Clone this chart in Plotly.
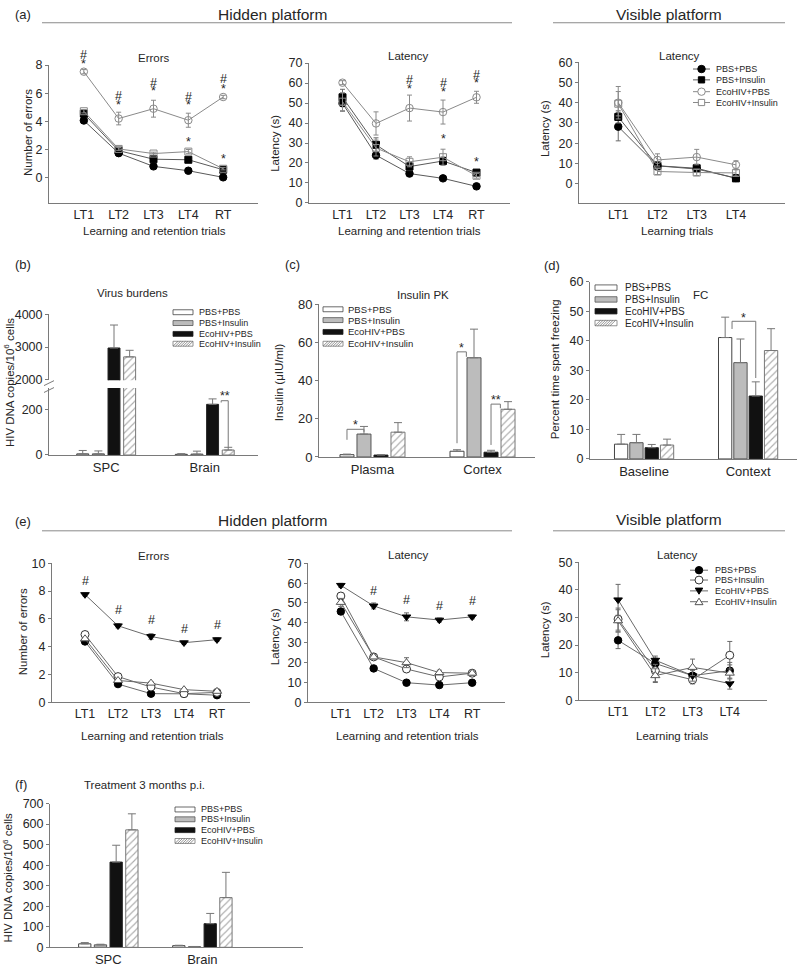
import plotly.graph_objects as go

# ---------------- data ----------------
groups = ["PBS+PBS", "PBS+Insulin", "EcoHIV+PBS", "EcoHIV+Insulin"]
trials5 = ["LT1", "LT2", "LT3", "LT4", "RT"]
trials4 = ["LT1", "LT2", "LT3", "LT4"]

# (a) Morris water maze, hidden platform errors (mean per group, SEM)
a_err_mean = [
    [4.06, 1.74, 0.80, 0.49, 0.02],
    [4.55, 1.92, 1.31, 1.27, 0.56],
    [7.53, 4.20, 4.90, 4.08, 5.73],
    [4.72, 2.04, 1.71, 1.85, 0.63],
]
a_err_sem = [
    [0.10, 0.10, 0.08, 0.06, 0.05],
    [0.12, 0.10, 0.12, 0.15, 0.08],
    [0.15, 0.45, 0.60, 0.50, 0.12],
    [0.12, 0.10, 0.10, 0.15, 0.08],
]
a_err_sig_x = ["LT1", "LT1", "LT2", "LT2", "LT3", "LT3", "LT4", "LT4", "RT", "RT", "LT4", "RT"]
a_err_sig_y = [7.80, 8.45, 4.90, 5.50, 5.85, 6.45, 4.90, 5.42, 6.05, 6.70, 2.28, 1.03]
a_err_sig_t = ["*", "#", "*", "#", "*", "#", "*", "#", "*", "#", "*", "*"]

a_lat_mean = [
    [49.9, 23.9, 14.7, 12.3, 8.3],
    [52.9, 29.1, 18.2, 21.0, 15.2],
    [60.2, 39.8, 47.5, 45.5, 52.9],
    [50.7, 27.5, 20.6, 22.9, 13.6],
]
a_lat_sem = [
    [4.0, 2.0, 1.2, 0.8, 0.6],
    [4.0, 3.5, 2.0, 2.0, 1.0],
    [1.0, 5.8, 6.5, 6.0, 3.0],
    [4.5, 4.0, 2.5, 4.0, 1.2],
]
a_lat_sig_x = ["LT3", "LT3", "LT4", "LT4", "RT", "RT", "LT4", "RT"]
a_lat_sig_y = [55.0, 59.4, 53.4, 57.8, 57.8, 61.9, 30.0, 18.5]
a_lat_sig_t = ["*", "#", "*", "#", "*", "#", "*", "*"]

a_vis_mean = [
    [28.2, 8.9, 7.3, 2.9],
    [33.0, 8.9, 7.7, 2.7],
    [40.0, 11.8, 13.2, 9.4],
    [39.5, 6.1, 5.6, 5.4],
]
a_vis_sem = [
    [7.0, 2.0, 1.5, 1.0],
    [3.0, 2.0, 2.0, 1.0],
    [8.0, 3.0, 3.8, 2.0],
    [6.0, 1.5, 1.5, 1.5],
]

# (b) virus burdens (per group: [SPC, Brain])
b_tissues = ["SPC", "Brain"]
b_mean = [[5, 3], [5, 4], [2970, 224], [2700, 22]]
b_sem = [[15, 3], [13, 13], [700, 24], [200, 12]]

# (c) insulin PK
c_sites = ["Plasma", "Cortex"]
c_mean = [[1.2, 3.0], [12.0, 52.0], [1.0, 2.5], [13.0, 25.0]]
c_sem = [[0.3, 0.8], [4.0, 15.0], [0.2, 1.0], [5.0, 4.0]]

# (d) fear conditioning
d_cond = ["Baseline", "Context"]
d_mean = [[5.0, 41.1], [5.5, 32.6], [3.8, 21.3], [4.7, 36.7]]
d_sem = [[3.3, 6.9], [2.8, 8.0], [1.1, 4.8], [2.0, 7.4]]

# (e) treatment experiment, water maze
e_err_mean = [
    [4.37, 1.30, 0.61, 0.60, 0.50],
    [4.87, 1.84, 1.09, 0.61, 0.70],
    [7.75, 5.50, 4.73, 4.28, 4.50],
    [4.56, 1.56, 1.37, 0.90, 0.78],
]
e_err_sem = [
    [0.10, 0.10, 0.08, 0.08, 0.08],
    [0.10, 0.10, 0.10, 0.08, 0.08],
    [0.10, 0.15, 0.20, 0.10, 0.12],
    [0.10, 0.10, 0.10, 0.08, 0.08],
]
e_err_sig_x = ["LT1", "LT2", "LT3", "LT4", "RT"]
e_err_sig_y = [8.46, 6.34, 5.63, 4.96, 5.27]

e_lat_mean = [
    [45.7, 17.0, 9.8, 8.6, 9.8],
    [53.5, 22.8, 16.7, 12.7, 14.6],
    [58.9, 48.5, 43.0, 41.4, 43.0],
    [50.3, 22.8, 19.9, 14.9, 14.6],
]
e_lat_sem = [
    [1.5, 0.8, 0.8, 0.6, 0.6],
    [1.5, 1.0, 1.5, 1.2, 1.0],
    [1.0, 1.5, 2.0, 1.0, 1.0],
    [2.0, 1.0, 2.5, 1.2, 1.0],
]
e_lat_sig_x = ["LT2", "LT3", "LT4", "RT"]
e_lat_sig_y = [54.0, 49.3, 46.5, 49.0]

e_vis_mean = [
    [21.7, 13.3, 8.9, 10.7],
    [29.4, 10.7, 7.4, 16.3],
    [36.4, 14.5, 8.9, 6.0],
    [28.8, 8.9, 11.9, 9.8],
]
e_vis_sem = [
    [3.0, 2.0, 2.0, 3.0],
    [4.0, 4.0, 1.5, 5.0],
    [5.6, 1.5, 2.0, 2.0],
    [4.0, 2.5, 3.0, 3.0],
]

# (f) virus burdens, treatment 3 months p.i.
f_tissues = ["SPC", "Brain"]
f_mean = [[17, 8], [12, 3], [415, 115], [572, 242]]
f_sem = [[6, 2], [3, 1], [82, 50], [78, 123]]

# ---------------- styling ----------------
W, H = 800, 975
FONT = "Liberation Sans, Arial, Helvetica, sans-serif"
AXC = "#7a7a7a"
TXT = "#262626"

bar_fill = ["#ffffff", "#bcbcbc", "#111111", "#ffffff"]
bar_edge = ["#444444", "#555555", "#222222", "#777777"]
bar_pattern = ["", "", "", "/"]

sty_a = [
    dict(sym="circle", fill="#000000", edge="#000000", lc="#5a5a5a", ec="#6a6a6a", size=7.5),
    dict(sym="square", fill="#000000", edge="#000000", lc="#5a5a5a", ec="#6a6a6a", size=7),
    dict(sym="circle-open", fill="#8a8a8a", edge="#8a8a8a", lc="#8a8a8a", ec="#8a8a8a", size=7.5),
    dict(sym="square-open", fill="#8a8a8a", edge="#8a8a8a", lc="#8a8a8a", ec="#8a8a8a", size=7),
]
sty_e = [
    dict(sym="circle", fill="#000000", edge="#000000", lc="#6a6a6a", ec="#6a6a6a", size=7.5),
    dict(sym="circle", fill="#ffffff", edge="#333333", lc="#6a6a6a", ec="#6a6a6a", size=8),
    dict(sym="triangle-down", fill="#000000", edge="#000000", lc="#6a6a6a", ec="#6a6a6a", size=7.5),
    dict(sym="triangle-up", fill="#ffffff", edge="#555555", lc="#6a6a6a", ec="#6a6a6a", size=8),
]


def fx(x):
    return x / W


def fy(y):
    return 1 - y / H


fig = go.Figure()
shapes = []
annotations = []
yranges = {}


def names(n):
    s = "" if n == 1 else str(n)
    return "x" + s, "y" + s, "xaxis" + s, "yaxis" + s


def setup_axes(n, x0, x1, ytop, ybot, xrange, yrange, cats, ytickvals,
               show_x=True, xline=True, xfont=12.5, yfont=12.5):
    xn, yn, xk, yk = names(n)
    yranges[n] = yrange
    xa = dict(domain=[fx(x0), fx(x1)], range=xrange, anchor=yn, type="category",
              categoryorder="array", categoryarray=cats, showgrid=False, zeroline=False,
              showline=xline, linecolor=AXC, linewidth=1, ticks="", showticklabels=show_x,
              tickfont=dict(family=FONT, size=xfont, color=TXT), fixedrange=True)
    ya = dict(domain=[fy(ybot), fy(ytop)], range=yrange, anchor=xn, showgrid=False,
              zeroline=False, showline=True, linecolor=AXC, linewidth=1, ticks="outside",
              ticklen=3, tickcolor=AXC, tickvals=ytickvals,
              tickfont=dict(family=FONT, size=yfont, color=TXT), fixedrange=True)
    fig.update_layout({xk: xa, yk: ya})


def add_lines(n, cats, means, sems, styles):
    xn, yn, _, _ = names(n)
    for m, s, st in zip(means, sems, styles):
        fig.add_trace(go.Scatter(
            x=cats, y=m, mode="lines+markers",
            line=dict(color=st["lc"], width=1),
            marker=dict(symbol=st["sym"], size=st["size"], color=st["fill"],
                        line=dict(color=st["edge"], width=1)),
            error_y=dict(type="data", array=s, color=st["ec"], thickness=1, width=2.5),
            xaxis=xn, yaxis=yn, showlegend=False, hoverinfo="skip", cliponaxis=False))


def add_sig(n, xs, ys, labels, size=12.5):
    # significance marks; y given in data units, placed on the axis' domain so
    # that marks above the plotted range stay visible
    xn, yn, _, _ = names(n)
    r0, r1 = yranges[n]
    for x, y, t in zip(xs, ys, labels):
        annotations.append(dict(x=x, y=(y - r0) / (r1 - r0), xref=xn, yref=yn + " domain",
                                text=t, showarrow=False, xanchor="center", yanchor="middle",
                                yshift=4, font=dict(family=FONT, size=size, color=TXT)))


def add_bars(n, cats, means, sems, slot, bw):
    xn, yn, _, _ = names(n)
    for i, (m, s) in enumerate(zip(means, sems)):
        center = (i - 1.5) * slot
        pat = dict(shape=bar_pattern[i], fgcolor="#5a5a5a", bgcolor="#ffffff",
                   size=5, solidity=0.22)
        fig.add_trace(go.Bar(
            x=cats, y=m, width=bw, offset=center - bw / 2,
            marker=dict(color=bar_fill[i], line=dict(color=bar_edge[i], width=1), pattern=pat),
            error_y=dict(type="data", symmetric=False, array=s, arrayminus=[0] * len(s),
                         color="#777777", thickness=1, width=4),
            xaxis=xn, yaxis=yn, showlegend=False, hoverinfo="skip"))


def bracket(n, cat_idx, i0, i1, slot, ytop, yl, yr, label, ylab):
    xn, yn, _, _ = names(n)
    x0 = cat_idx + (i0 - 1.5) * slot
    x1 = cat_idx + (i1 - 1.5) * slot
    ln = dict(color="#777777", width=1)
    for a, b, c, d in [(x0, yl, x0, ytop), (x0, ytop, x1, ytop), (x1, ytop, x1, yr)]:
        shapes.append(dict(type="line", xref=xn, yref=yn, x0=a, y0=b, x1=c, y1=d, line=ln))
    annotations.append(dict(x=(x0 + x1) / 2, y=ylab, xref=xn, yref=yn, text=label,
                            showarrow=False, font=dict(family=FONT, size=12.5, color=TXT)))


def text(x, y, s, size=11.5, xanchor="center", angle=0):
    annotations.append(dict(x=fx(x), y=fy(y), xref="paper", yref="paper", text=s,
                            showarrow=False, xanchor=xanchor, yanchor="middle",
                            textangle=angle, font=dict(family=FONT, size=size, color=TXT)))


def hline(x0, x1, y, color="#8a8a8a"):
    shapes.append(dict(type="line", xref="paper", yref="paper", x0=fx(x0), x1=fx(x1),
                       y0=fy(y), y1=fy(y), line=dict(color=color, width=1)))


def marker_shape(cx, cy, st):
    r = st["size"] / 2
    fill = "#ffffff" if st["sym"].endswith("open") else st["fill"]
    line = dict(color=st["edge"], width=1)
    sym = st["sym"].replace("-open", "")
    if sym == "circle":
        shapes.append(dict(type="circle", xref="paper", yref="paper", x0=fx(cx - r), x1=fx(cx + r),
                           y0=fy(cy + r), y1=fy(cy - r), fillcolor=fill, line=line))
    elif sym == "square":
        r = r * 0.9
        shapes.append(dict(type="rect", xref="paper", yref="paper", x0=fx(cx - r), x1=fx(cx + r),
                           y0=fy(cy + r), y1=fy(cy - r), fillcolor=fill, line=line))
    else:
        if sym == "triangle-down":
            pts = [(cx - r, cy - r * 0.75), (cx + r, cy - r * 0.75), (cx, cy + r * 0.9)]
        else:
            pts = [(cx - r, cy + r * 0.75), (cx + r, cy + r * 0.75), (cx, cy - r * 0.9)]
        path = "M " + " L ".join(f"{fx(a)},{fy(b)}" for a, b in pts) + " Z"
        shapes.append(dict(type="path", xref="paper", yref="paper", path=path,
                           fillcolor=fill, line=line))


def legend_lines(xl0, xl1, xt, rows, styles, size=9):
    for y, st, lab in zip(rows, styles, groups):
        shapes.append(dict(type="line", xref="paper", yref="paper", x0=fx(xl0), x1=fx(xl1),
                           y0=fy(y), y1=fy(y), line=dict(color=st["lc"], width=1)))
        marker_shape((xl0 + xl1) / 2, y, st)
        text(xt, y, lab, size=size, xanchor="left")


def legend_bars(x0, x1, xt, rows, size=9, h=5):
    for i, (y, lab) in enumerate(zip(rows, groups)):
        shapes.append(dict(type="rect", xref="paper", yref="paper", x0=fx(x0), x1=fx(x1),
                           y0=fy(y + h / 2), y1=fy(y - h / 2), fillcolor=bar_fill[i],
                           line=dict(color=bar_edge[i], width=0.8)))
        if bar_pattern[i] == "/":
            segs = []
            k = 0
            while x0 + k + h <= x1:
                segs.append(f"M {fx(x0 + k)},{fy(y + h / 2)} L {fx(x0 + k + h)},{fy(y - h / 2)}")
                k += 2.5
            shapes.append(dict(type="path", xref="paper", yref="paper", path=" ".join(segs),
                               line=dict(color="#666666", width=0.7)))
        text(xt, y, lab, size=size, xanchor="left")


# ---------------- (a) ----------------
setup_axes(1, 49, 258, 59, 199, [-1, 5], [-1.8, 8], trials5, [0, 2, 4, 6, 8])
add_lines(1, trials5, a_err_mean, a_err_sem, sty_a)
add_sig(1, a_err_sig_x, a_err_sig_y, a_err_sig_t)

setup_axes(2, 309, 510, 57, 199, [-1, 5], [0, 70], trials5, [0, 10, 20, 30, 40, 50, 60, 70])
add_lines(2, trials5, a_lat_mean, a_lat_sem, sty_a)
add_sig(2, a_lat_sig_x, a_lat_sig_y, a_lat_sig_t)

setup_axes(3, 579, 785, 56, 199, [-1, 4.25], [-9.4, 60], trials4, [0, 10, 20, 30, 40, 50, 60])
add_lines(3, trials4, a_vis_mean, a_vis_sem, sty_a)
legend_lines(693, 710, 714, [63, 74, 86, 97], sty_a)

# ---------------- (b) broken axis ----------------
b_slot, b_bw = 15.7 / 99, 12 / 99
setup_axes(4, 49, 258, 387, 455, [-0.58, 1.54], [0, 296], b_tissues, [0, 200], xfont=13)
setup_axes(5, 49, 258, 312, 379, [-0.58, 1.54], [1990, 4000], b_tissues, [2000, 3000, 4000],
           show_x=False, xline=False)
add_bars(4, b_tissues, b_mean, b_sem, b_slot, b_bw)
add_bars(5, b_tissues, b_mean, b_sem, b_slot, b_bw)
bracket(4, 1, 2.55, 3, b_slot, 240, 232, 32, "**", 262)
for yy in (382, 389):
    shapes.append(dict(type="line", xref="paper", yref="paper", x0=fx(44), x1=fx(54),
                       y0=fy(yy + 2.5), y1=fy(yy - 2.5), line=dict(color=AXC, width=1)))
legend_bars(173, 193, 197, [310, 321, 332, 342])

# ---------------- (c) ----------------
c_slot, c_bw = 17 / 110, 14 / 110
setup_axes(6, 319, 535, 302, 457, [-0.486, 1.477], [0, 80], c_sites, [0, 20, 40, 60, 80],
           xfont=13, yfont=13)
add_bars(6, c_sites, c_mean, c_sem, c_slot, c_bw)
bracket(6, 0, 0, 1, c_slot, 14.5, 9.0, 13.2, "*", 17.0)
bracket(6, 1, 0, 0.55, c_slot, 55.1, 7.2, 52.5, "*", 57.0)
bracket(6, 1, 2, 2.55, c_slot, 27.7, 6.3, 25.5, "**", 30.0)
legend_bars(323, 343, 346, [307, 318, 330, 342], size=9.5)

# ---------------- (d) ----------------
d_slot, d_bw = 15.3 / 104, 13.3 / 104
setup_axes(7, 590, 797, 279, 459, [-0.52, 1.47], [0, 60], d_cond, [0, 10, 20, 30, 40, 50, 60],
           xfont=13, yfont=12.5)
add_bars(7, d_cond, d_mean, d_sem, d_slot, d_bw)
bracket(7, 1, 0.45, 2, d_slot, 46.6, 44.0, 27.4, "*", 47.6)
legend_bars(595, 617, 623, [285, 297, 309, 321], size=10, h=5.5)

# ---------------- (e) ----------------
setup_axes(8, 52, 250, 565, 706, [-1, 5], [0, 10], trials5, [0, 2, 4, 6, 8, 10])
add_lines(8, trials5, e_err_mean, e_err_sem, sty_e)
add_sig(8, e_err_sig_x, e_err_sig_y, ["#"] * len(e_err_sig_x))

setup_axes(9, 308, 505, 565, 706, [-1, 5], [0, 70], trials5, [0, 10, 20, 30, 40, 50, 60, 70])
add_lines(9, trials5, e_lat_mean, e_lat_sem, sty_e)
add_sig(9, e_lat_sig_x, e_lat_sig_y, ["#"] * len(e_lat_sig_x))

setup_axes(10, 579, 767, 564, 704, [-1.05, 4], [0, 50], trials4, [0, 10, 20, 30, 40, 50])
add_lines(10, trials4, e_vis_mean, e_vis_sem, sty_e)
legend_lines(690, 708, 713, [572, 582, 593, 604], sty_e)

# ---------------- (f) ----------------
f_slot, f_bw = 15.7 / 94, 12.3 / 94
setup_axes(11, 50, 303, 809, 955, [-0.62, 2.07], [0, 700], f_tissues,
           [0, 100, 200, 300, 400, 500, 600, 700], xfont=13)
add_bars(11, f_tissues, f_mean, f_sem, f_slot, f_bw)
legend_bars(175, 195, 199, [815, 825, 836, 847])

# ---------------- texts ----------------
for lab, x, y in [("(a)", 23, 8), ("(b)", 23, 262), ("(c)", 292, 262), ("(d)", 552, 263),
                  ("(e)", 23, 523), ("(f)", 21, 790)]:
    text(x, y, lab, size=13)

for lab, x, y in [("Hidden platform", 272, 8), ("Visible platform", 669, 8),
                  ("Hidden platform", 272, 522), ("Visible platform", 669, 521)]:
    text(x, y, lab, size=15.5)
hline(42, 512, 16)
hline(553, 785, 16)
hline(42, 512, 532)
hline(553, 785, 532)

for lab, x, y in [("Errors", 154, 52), ("Latency", 408, 50), ("Latency", 679, 50),
                  ("Virus burdens", 132, 290), ("Insulin PK", 423, 292), ("FC", 700, 292),
                  ("Errors", 154, 558), ("Latency", 408, 557), ("Latency", 677, 557),
                  ("Treatment 3 months p.i.", 144, 790)]:
    text(x, y, lab, size=11.5)

for lab, x, y in [("Learning and retention trials", 154, 228),
                  ("Learning and retention trials", 409, 228),
                  ("Learning trials", 677, 228),
                  ("Learning and retention trials", 152, 740),
                  ("Learning and retention trials", 407, 740),
                  ("Learning trials", 672, 740)]:
    text(x, y, lab, size=11.5)

for lab, x, y in [("Number of errors", 28, 128), ("Latency (s)", 275, 139),
                  ("Latency (s)", 545, 124), ("HIV DNA copies/10<sup>6</sup> cells", 9, 382),
                  ("Insulin (μIU/ml)", 279, 381), ("Percent time spent freezing", 555, 368),
                  ("Number of errors", 23, 635), ("Latency (s)", 275, 640),
                  ("Latency (s)", 545, 633), ("HIV DNA copies/10<sup>6</sup> cells", 8, 885)]:
    text(x, y, lab, size=11.5, angle=-90)

fig.update_layout(
    width=W, height=H, margin=dict(l=0, r=0, t=0, b=0),
    paper_bgcolor="#ffffff", plot_bgcolor="#ffffff",
    showlegend=False, shapes=shapes, annotations=annotations,
    font=dict(family=FONT, color=TXT),
)

fig.write_html("out.html", config={"displayModeBar": False},
               post_script="document.body.style.margin='0px';document.body.style.overflow='hidden';")
